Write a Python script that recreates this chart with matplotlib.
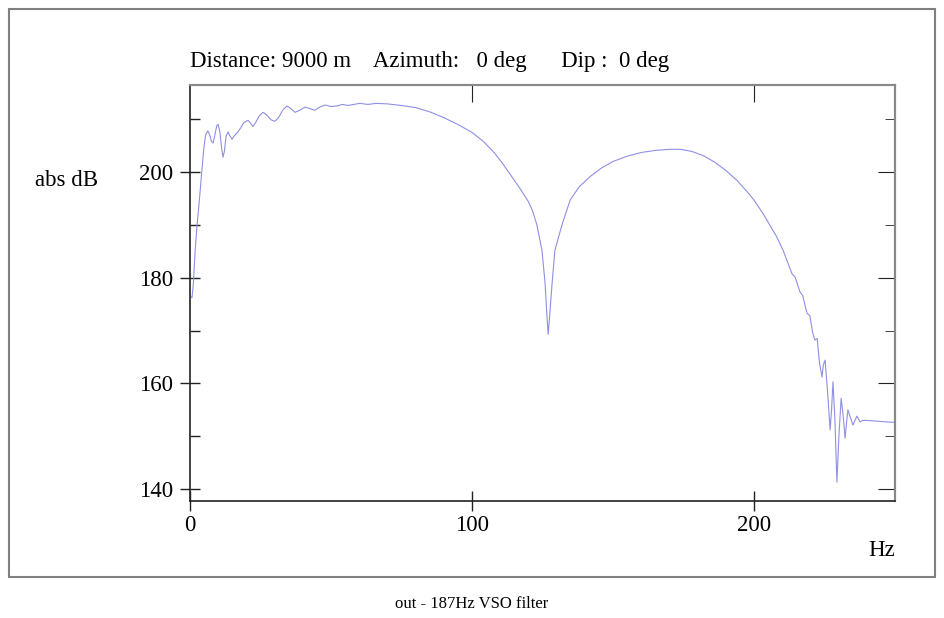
import matplotlib.pyplot as plt
from matplotlib.patches import Rectangle

freq = [0.0, 0.7, 1.2, 1.8, 2.5, 3.2, 4.0, 4.8, 5.5, 6.3, 7.0, 7.6, 8.2, 8.8,
        9.5, 10.0, 10.6, 11.2, 11.7, 12.2, 12.8, 13.5, 14.2, 14.9, 15.6, 16.3,
        17.0, 18.0, 19.0, 20.6, 21.5, 22.3, 23.2, 24.5, 25.9, 27.2, 28.7, 30.1,
        31.5, 33.0, 34.4, 35.8, 37.2, 38.9, 40.8, 42.5, 44.3, 46.0, 47.9, 50.0,
        52.0, 54.0, 56.0, 58.0, 60.3, 63.0, 66.0, 70.0, 75.0, 80.0, 85.0, 90.0,
        95.0, 100.0, 104.0, 108.0, 111.0, 114.0, 117.0, 120.0, 121.5, 123.0,
        124.8, 125.9, 126.6, 127.0, 127.5, 128.4, 129.4, 131.9, 134.8, 138.0,
        142.0, 146.0, 150.0, 155.0, 160.0, 165.0, 170.0, 174.0, 178.0, 182.0,
        186.0, 190.0, 194.0, 198.0, 200.0, 203.0, 206.0, 208.0, 210.3, 212.0,
        213.5, 214.5, 215.5, 216.3, 217.3, 218.2, 218.8, 219.8, 220.8, 221.6,
        222.4, 223.2, 224.1, 224.6, 225.2, 226.0, 227.0, 227.5, 228.0, 228.7,
        229.4, 230.1, 230.9, 231.6, 232.3, 232.8, 233.3, 234.2, 235.1, 235.8,
        236.5, 237.1, 237.6, 238.5, 239.4, 242.0, 245.0, 250.0]
db = [176.5, 176.2, 179.0, 185.0, 190.0, 194.0, 199.0, 204.0, 207.0, 207.8,
      207.0, 205.8, 205.5, 207.0, 208.8, 209.0, 207.5, 204.5, 202.8, 204.0,
      206.8, 207.6, 206.8, 206.2, 206.8, 207.2, 207.6, 208.4, 209.3, 209.8,
      209.2, 208.6, 209.3, 210.6, 211.3, 210.8, 209.9, 209.6, 210.4, 211.8,
      212.5, 212.0, 211.3, 211.7, 212.3, 212.0, 211.7, 212.3, 212.7, 212.4,
      212.5, 212.8, 212.6, 212.8, 213.0, 212.8, 213.0, 212.9, 212.6, 212.2,
      211.4, 210.3, 209.0, 207.5, 205.8, 203.6, 201.5, 199.2, 196.9, 194.4,
      192.6, 190.0, 185.2, 179.0, 172.5, 169.3, 172.5, 179.0, 185.2, 190.0,
      194.7, 197.2, 199.2, 200.8, 202.0, 203.0, 203.7, 204.1, 204.3, 204.3,
      203.9, 203.1, 201.9, 200.3, 198.4, 196.0, 194.7, 192.3, 189.6, 187.8,
      185.2, 182.8, 180.7, 180.2, 178.6, 177.3, 176.6, 174.5, 173.3, 172.8,
      169.6, 168.2, 168.5, 164.0, 161.2, 163.5, 164.4, 159.0, 151.2, 155.0,
      160.3, 153.0, 141.3, 150.0, 157.2, 154.0, 149.6, 152.5, 155.0, 153.5,
      152.1, 153.0, 153.8, 153.2, 152.7, 153.0, 153.0, 152.9, 152.8, 152.6]

y_major = [140, 160, 180, 200]
y_minor = [150, 170, 190, 210]
x_major = [0, 100, 200]

plt.rcParams['font.family'] = ['Liberation Serif', 'DejaVu Serif']

fig = plt.figure(figsize=(9.44, 6.18), dpi=100)
ax = fig.add_axes([0.2013, 0.1893, 0.7468, 0.6731])
ax.plot(freq, db, color='#8f8fe6', lw=0.8)
ax.set_xlim(0, 250)
ax.set_ylim(137.73, 216.47)

ax.set_yticks(y_major)
ax.set_yticks(y_minor, minor=True)
ax.set_xticks(x_major)
ax.tick_params(axis='both', which='major', direction='inout', length=14,
               width=1, color='#222222', labelsize=16.5, pad=2)
ax.tick_params(axis='y', which='minor', direction='in', length=7,
               width=1, color='#222222')
ax.tick_params(axis='y', which='major', pad=5)
ax.tick_params(axis='x', which='major', pad=3)

right = ax.secondary_yaxis('right')
right.set_yticks(y_major)
right.set_yticks(y_minor, minor=True)
right.tick_params(which='major', direction='in', length=12, color='#222222')
right.tick_params(which='minor', direction='in', length=7, color='#222222')
right.set_yticklabels([])
right.spines['right'].set_color('#888888')
right.spines['right'].set_linewidth(1.5)

top = ax.secondary_xaxis('top')
top.set_xticks([100, 200])
top.tick_params(direction='in', length=12, color='#222222')
top.set_xticklabels([])
top.spines['top'].set_color('#888888')
top.spines['top'].set_linewidth(1.5)

for s in ['left', 'bottom']:
    ax.spines[s].set_color('#222222')
    ax.spines[s].set_linewidth(1.2)
for s in ['top', 'right']:
    ax.spines[s].set_color('#888888')
    ax.spines[s].set_linewidth(1.5)

fig.text(190 / 944, 1 - 62 / 618,
         'Distance: 9000 m    Azimuth:   0 deg      Dip :  0 deg',
         fontsize=16.5, ha='left', va='center')
fig.text(35 / 944, 1 - 181 / 618, 'abs dB', fontsize=16.5, ha='left', va='center')
fig.text(895 / 944, 1 - 550 / 618, 'Hz', fontsize=16.5, ha='right', va='center')
fig.text(472 / 944, 1 - 604 / 618, 'out - 187Hz VSO filter', fontsize=12,
         ha='center', va='center')

fig.patches.append(Rectangle((9 / 944, 1 - 577 / 618), 926 / 944, 568 / 618,
                             transform=fig.transFigure, fill=False,
                             edgecolor='#808080', lw=1.5))

fig.savefig('out.png', dpi=100)
